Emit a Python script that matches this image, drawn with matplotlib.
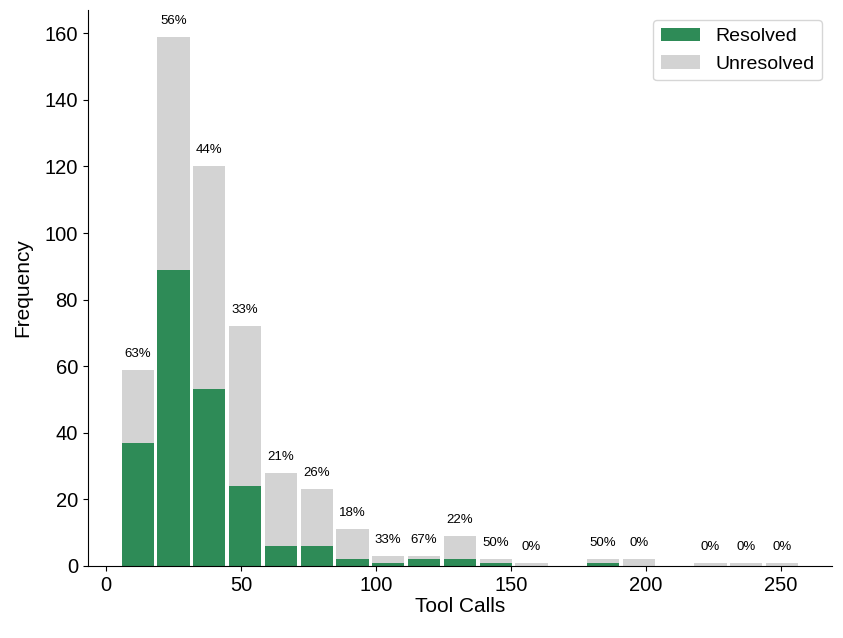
import numpy as np
import matplotlib
matplotlib.use("Agg")
import matplotlib.pyplot as plt

plt.rcParams["font.family"] = ["Liberation Sans", "DejaVu Sans"]

# histogram bins (tool calls), 19 bins
bin_start = 5
bin_end = 257
n_bins = 19

totals = [59, 159, 120, 72, 28, 23, 11, 3, 3, 9, 2, 1, 0, 2, 2, 0, 1, 1, 1]
resolved = [37, 89, 53, 24, 6, 6, 2, 1, 2, 2, 1, 0, 0, 1, 0, 0, 0, 0, 0]

green = "#2E8B57"
grey = "#D3D3D3"

edges = np.linspace(bin_start, bin_end, n_bins + 1)
centers = (edges[:-1] + edges[1:]) / 2
bw = edges[1] - edges[0]
totals = np.array(totals)
resolved = np.array(resolved)
unresolved = totals - resolved

fig = plt.figure(figsize=(8.43, 6.38), dpi=100)
ax = fig.add_axes([0.104, 0.113, 0.883, 0.871])

ax.bar(centers, resolved, width=bw * 0.9, color=green, label="Resolved")
ax.bar(centers, unresolved, width=bw * 0.9, bottom=resolved, color=grey, label="Unresolved")

for c, t, r in zip(centers, totals, resolved):
    if t > 0:
        ax.text(c, t + 3, f"{100 * r / t:.0f}%", ha="center", va="bottom", fontsize=9.5)

ax.spines["top"].set_visible(False)
ax.spines["right"].set_visible(False)

ax.set_xlabel("Tool Calls", fontsize=15, labelpad=2)
ax.set_ylabel("Frequency", fontsize=15, labelpad=9)
ax.tick_params(labelsize=14.5)
ax.legend(fontsize=14, loc="upper right", borderaxespad=0.5)

fig.savefig("out.png", dpi=100)
